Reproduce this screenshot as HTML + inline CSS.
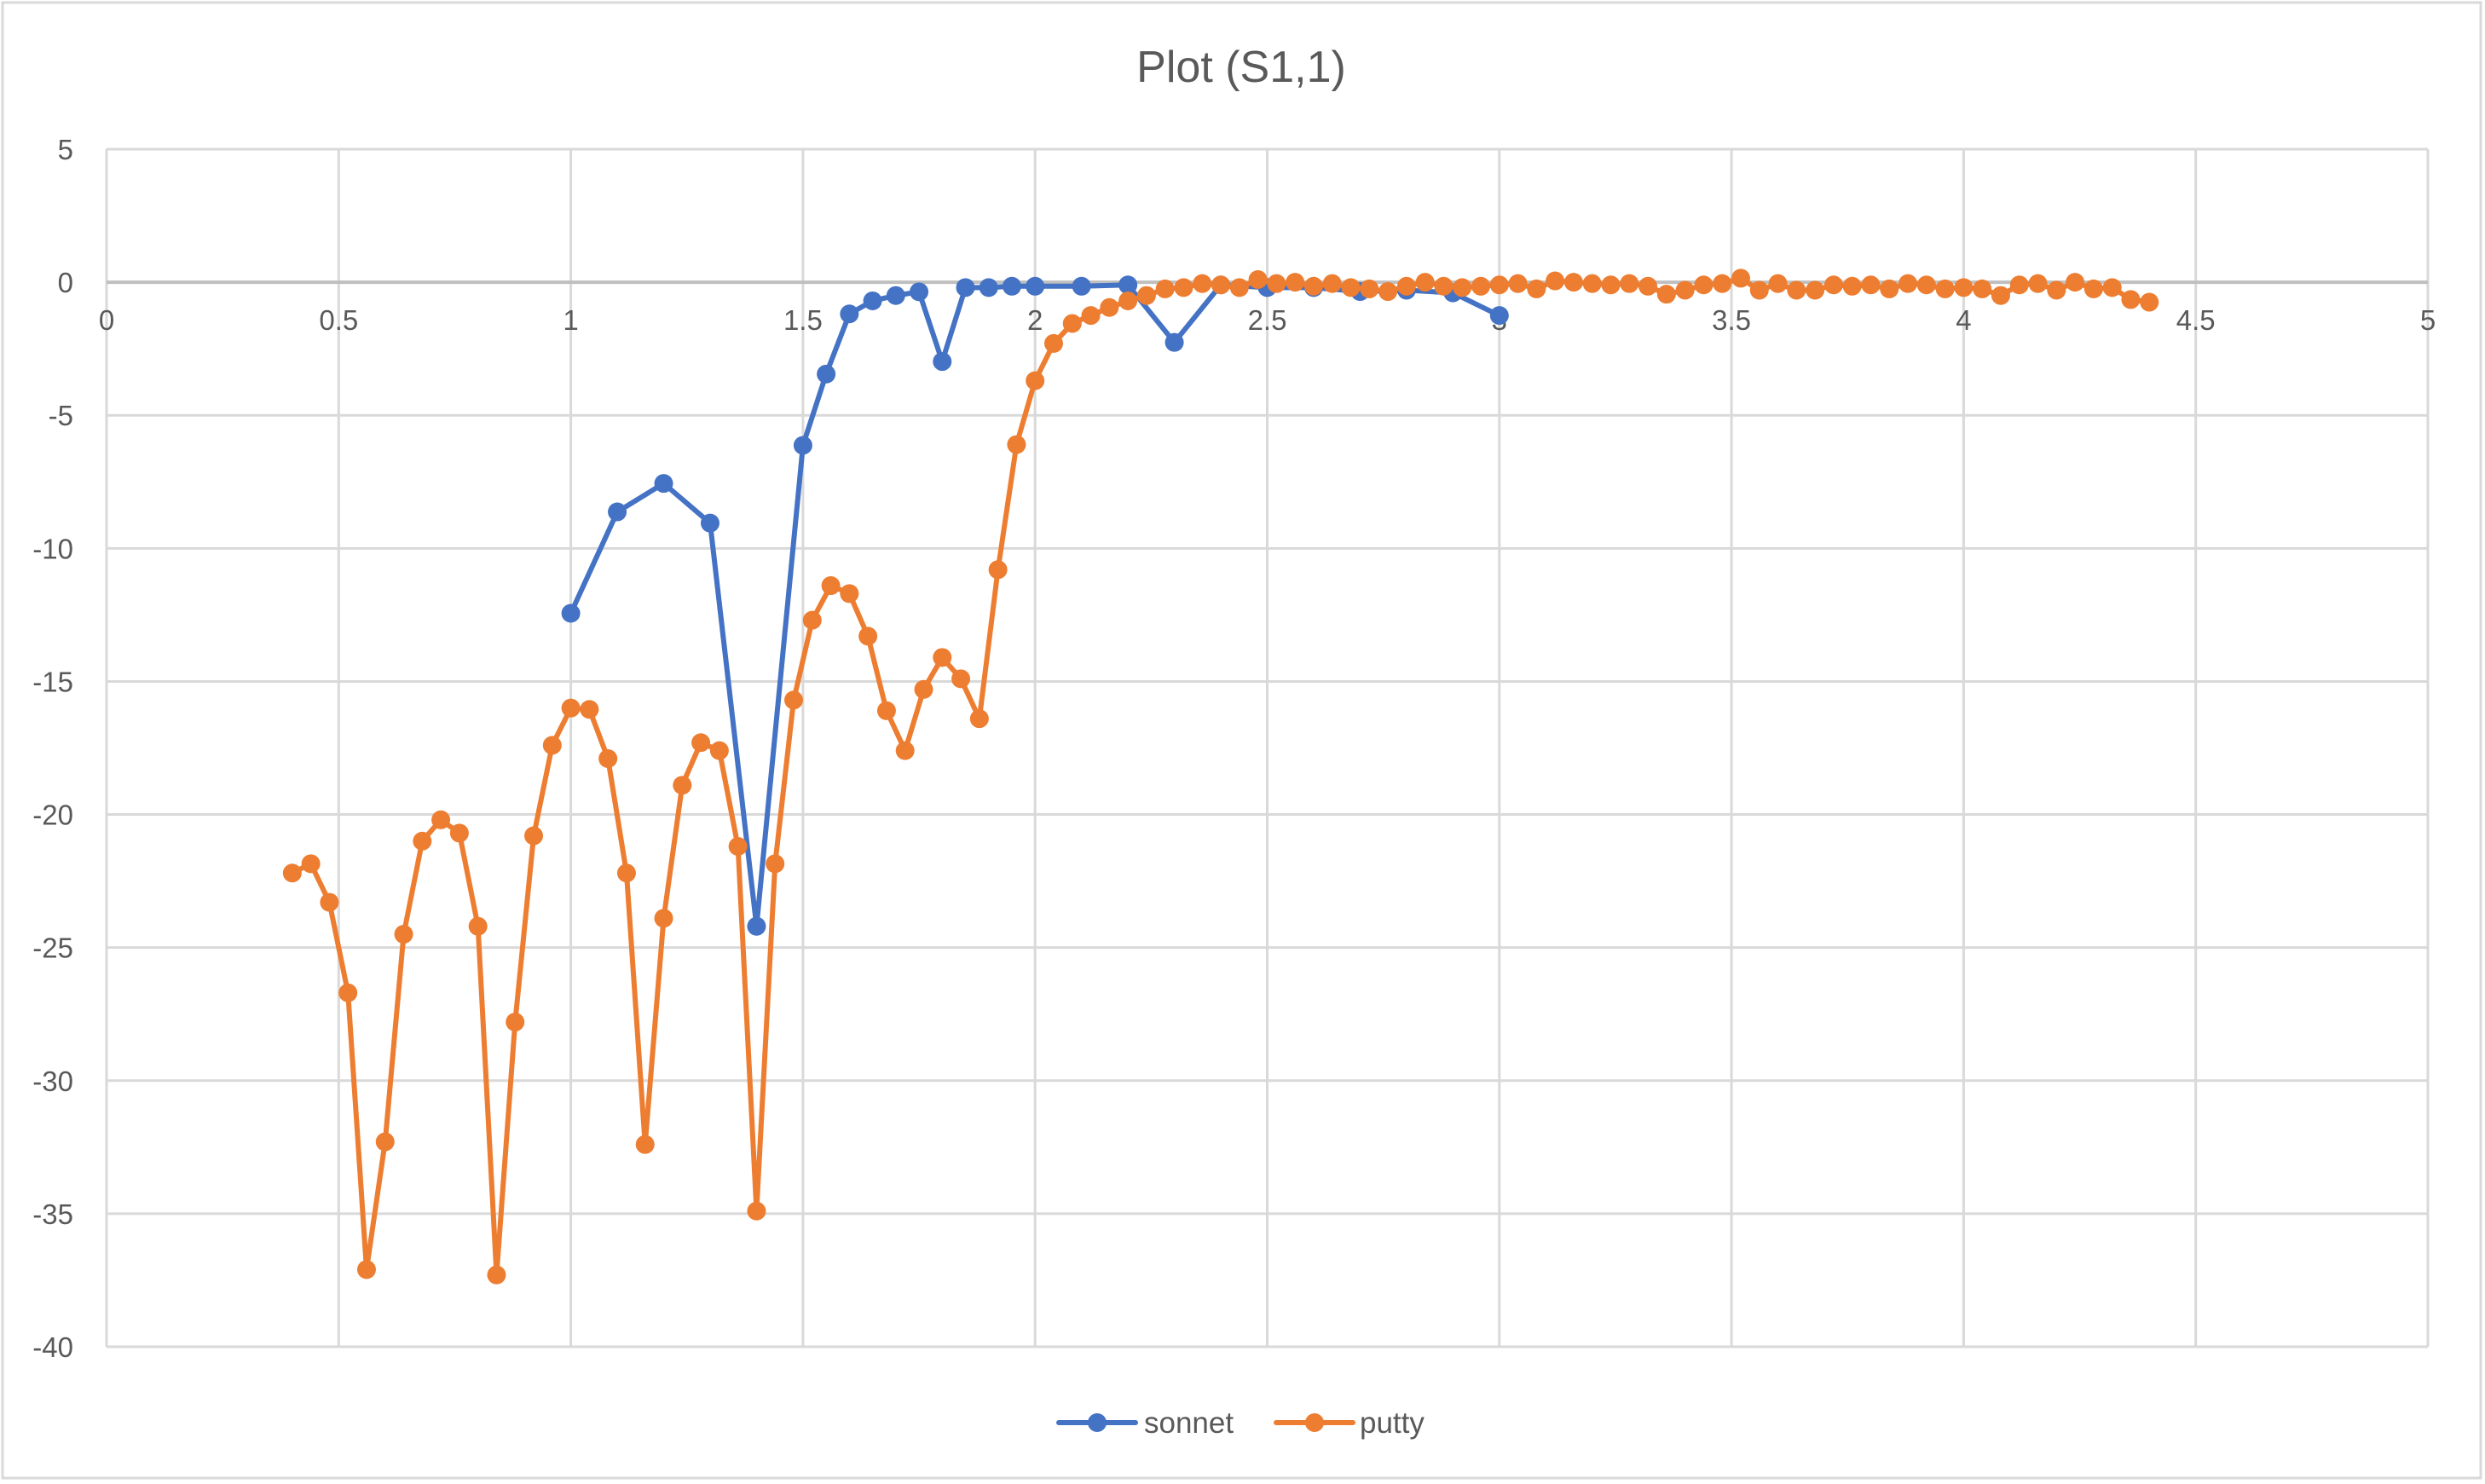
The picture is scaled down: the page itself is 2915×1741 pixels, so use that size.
<!DOCTYPE html>
<html><head><meta charset="utf-8"><style>
html,body{margin:0;padding:0;background:#fff;}
svg{display:block;font-family:"Liberation Sans",sans-serif;}
</style></head><body>
<svg id="chart" width="2915" height="1741" viewBox="0 0 2915 1741" xmlns="http://www.w3.org/2000/svg">
<rect x="3" y="3" width="2907" height="1731" fill="#fff" stroke="#d9d9d9" stroke-width="3"/>
<text x="1456" y="96" text-anchor="middle" font-size="52" fill="#595959">Plot (S1,1)</text>
<g id="grid"></g><g id="axes"></g><g id="series"></g>
<g>
<g>
<line x1="1242" y1="1669" x2="1332" y2="1669" stroke="#4472c4" stroke-width="6" stroke-linecap="round"/>
<circle cx="1287" cy="1669" r="11" fill="#4472c4"/>
<text x="1342" y="1681" font-size="35" fill="#595959">sonnet</text></g>
<g>
<line x1="1497" y1="1669" x2="1587" y2="1669" stroke="#ed7d31" stroke-width="6" stroke-linecap="round"/>
<circle cx="1542" cy="1669" r="11" fill="#ed7d31"/>
<text x="1595" y="1681" font-size="35" fill="#595959">putty</text></g>
</g>
</svg>
<script>
const xTicks=[0,0.5,1,1.5,2,2.5,3,3.5,4,4.5,5];
const xTickLabels=["0","0.5","1","1.5","2","2.5","3","3.5","4","4.5","5"];
const yTicks=[5,0,-5,-10,-15,-20,-25,-30,-35,-40];
const yTickLabels=["5","0","-5","-10","-15","-20","-25","-30","-35","-40"];
const sonnetX=[1.0,1.1,1.2,1.3,1.4,1.5,1.55,1.6,1.65,1.7,1.75,1.8,1.85,1.9,1.95,2.0,2.1,2.2,2.3,2.4,2.5,2.6,2.7,2.8,2.9,3.0];
const sonnetY=[-12.44,-8.63,-7.56,-9.05,-24.2,-6.13,-3.45,-1.19,-0.7,-0.5,-0.36,-2.98,-0.2,-0.2,-0.15,-0.15,-0.15,-0.1,-2.26,-0.1,-0.2,-0.2,-0.35,-0.3,-0.4,-1.25];
const puttyX=[0.40,0.44,0.48,0.52,0.56,0.60,0.64,0.68,0.72,0.76,0.80,0.84,0.88,0.92,0.96,1.00,1.04,1.08,1.12,1.16,1.20,1.24,1.28,1.32,1.36,1.40,1.44,1.48,1.52,1.56,1.60,1.64,1.68,1.72,1.76,1.80,1.84,1.88,1.92,1.96,2.00,2.04,2.08,2.12,2.16,2.20,2.24,2.28,2.32,2.36,2.40,2.44,2.48,2.52,2.56,2.60,2.64,2.68,2.72,2.76,2.80,2.84,2.88,2.92,2.96,3.00,3.04,3.08,3.12,3.16,3.20,3.24,3.28,3.32,3.36,3.40,3.44,3.48,3.52,3.56,3.60,3.64,3.68,3.72,3.76,3.80,3.84,3.88,3.92,3.96,4.00,4.04,4.08,4.12,4.16,4.20,4.24,4.28,4.32,4.36,4.40];
const puttyY=[-22.2,-21.85,-23.3,-26.7,-37.1,-32.3,-24.5,-21.0,-20.2,-20.7,-24.2,-37.3,-27.8,-20.8,-17.4,-16.0,-16.05,-17.9,-22.2,-32.4,-23.9,-18.9,-17.3,-17.6,-21.2,-34.9,-21.85,-15.7,-12.7,-11.4,-11.7,-13.3,-16.1,-17.6,-15.3,-14.1,-14.9,-16.4,-10.8,-6.1,-3.7,-2.3,-1.55,-1.25,-0.95,-0.7,-0.5,-0.25,-0.2,
-0.05,-0.1,-0.2,0.1,-0.05,0.0,-0.15,-0.05,-0.2,-0.25,-0.35,-0.15,0.0,-0.15,-0.2,-0.15,-0.1,-0.05,-0.25,0.05,0.0,-0.05,-0.1,-0.05,-0.15,-0.45,-0.3,-0.1,-0.05,0.15,-0.3,-0.05,-0.3,-0.3,-0.1,-0.15,-0.1,-0.25,-0.05,-0.1,-0.25,-0.2,-0.25,-0.5,-0.1,-0.05,-0.3,0.0,-0.25,-0.2,-0.65,-0.75];
const L=125,R=2848,T=175,B=1580,XMIN=0,XMAX=5,YMIN=-40,YMAX=5;
function sx(v){return L+(v-XMIN)/(XMAX-XMIN)*(R-L);}
function sy(v){return T+(YMAX-v)/(YMAX-YMIN)*(B-T);}
const NS="http://www.w3.org/2000/svg";
function mk(tag,attrs,parent){const e=document.createElementNS(NS,tag);for(const k in attrs)e.setAttribute(k,attrs[k]);parent.appendChild(e);return e;}
const grid=document.getElementById('grid'),axes=document.getElementById('axes'),ser=document.getElementById('series');
xTicks.forEach((t,i)=>{
 const g=mk('line',{x1:sx(t),x2:sx(t),y1:T,y2:B,stroke:'#d9d9d9','stroke-width':3},grid);
 
 
 const tx=mk('text',{x:sx(t),y:sy(0)+56,'text-anchor':'middle','font-size':33,fill:'#595959'},axes);
 tx.textContent=xTickLabels[i];
 
 
});
yTicks.forEach((t,i)=>{
 const g=mk('line',{x1:L,x2:R,y1:sy(t),y2:sy(t),stroke:t===0?'#bfbfbf':'#d9d9d9','stroke-width':t===0?4:3},grid);
 
 
 const tx=mk('text',{x:86,y:sy(t)+12,'text-anchor':'end','font-size':33,fill:'#595959'},axes);
 tx.textContent=yTickLabels[i];
 
 
});
function drawSeries(xs,ys,color,name){
 const g=mk('g',{},ser);
 
 
 const pts=xs.map((x,i)=>sx(x)+','+sy(ys[i])).join(' ');
 const pl=mk('polyline',{points:pts,fill:'none',stroke:color,'stroke-width':6,'stroke-linejoin':'round','stroke-linecap':'round'},g);
 
 
 xs.forEach((x,i)=>{
  const c=mk('circle',{cx:sx(x),cy:sy(ys[i]),r:11,fill:color},g);
  
  
 });
}
drawSeries(sonnetX,sonnetY,'#4472c4','sonnet');
drawSeries(puttyX,puttyY,'#ed7d31','putty');
</script>
</body></html>
